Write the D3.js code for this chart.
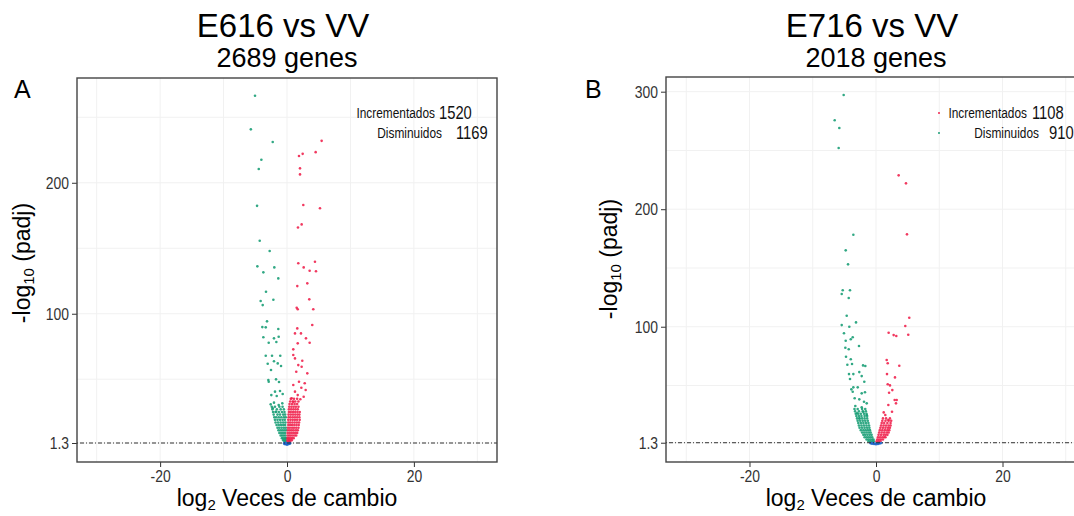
<!DOCTYPE html>
<html>
<head>
<meta charset="utf-8">
<script src="https://cdn.jsdelivr.net/npm/d3@7"></script>
<style>
  body { margin: 0; background: #fff; }
  .tick text { font-family: "Liberation Sans", Arial, sans-serif; font-size: 17px; fill: #333; }
  .tick line { stroke: #333; }
  .lab { font-family: "Liberation Sans", Arial, sans-serif; fill: #000; }
  .leg { font-family: "Liberation Sans", Arial, sans-serif; fill: #111; }
</style>
</head>
<body>
<div id="chart"></div>
<script>
// volcano plots, values

var xTicks = [-20, 0, 20];
var xMinor = [-30, -10, 10, 30];
var yTicksA = [1.3, 100, 200];
var yTicksB = [1.3, 100, 200, 300];
var yMinorA = [50, 150, 250];
var yMinorB = [50, 150, 250];
var threshold = 1.3;

var titleA = ["E616 vs VV", "2689 genes"];
var titleB = ["E716 vs VV", "2018 genes"];
var legendLabels = ["Incrementados", "Disminuidos"];
var countsA = [1520, 1169];
var countsB = [1108, 910];

// panel A - up regulated (red)
var upA = [
  [5.46,232],[4.52,223.4],[2.47,222.1],[1.89,220.4],[2.05,211],[2.05,206.4],[2.57,183],[5.2,180.5],
  [2.31,168.2],[1.73,165.9],[1.78,138.5],[4.41,139.7],[2.63,135.4],[3.57,132.8],[4.57,132.4],[3.2,123.2],
  [1.62,121.1],[3.51,111],[1.53,104.6],[1.69,103.4],[4.14,103.4],[3.98,91.4],[1.62,88.8],[1.26,85],
  [2.2,85],[2.99,81.2],[3.57,77.9],[1.69,77.4],[0.99,72.8],[0.99,68.5],[1.26,65.9],[2.41,64.1],
  [1.78,60.8],[2.31,59.5],[1.46,55.7],[3.2,54.5],[1.89,48.1],[2.79,46.9],[0.99,45.6],[2.26,43.5],
  [2.94,41.8],[1.26,40.5],[1.69,37.9],[2.63,36.6],[0.74,35.4],[2.1,34.7],[0.99,32.8],
  [0.6,35],[1.1,35],[1.6,35],
  [0.5,33],[0.9,33],[1.3,33],[1.8,33],
  [0.4,31],[0.8,31],[1.2,31],[1.6,31],
  [0.35,29],[0.7,29],[1.05,29],[1.4,29],[1.8,29],
  [0.3,27],[0.65,27],[1.0,27],[1.35,27],[1.7,27],
  [0.3,25],[0.6,25],[0.95,25],[1.3,25],[1.65,25],[2.0,25],
  [0.25,23],[0.6,23],[0.95,23],[1.3,23],[1.65,23],[1.95,23],
  [0.25,21],[0.55,21],[0.9,21],[1.25,21],[1.6,21],[1.95,21],
  [0.2,19],[0.55,19],[0.9,19],[1.25,19],[1.6,19],[2.0,19],
  [0.2,17],[0.5,17],[0.85,17],[1.2,17],[1.55,17],[1.9,17],
  [0.2,15],[0.5,15],[0.8,15],[1.15,15],[1.5,15],[1.85,15],
  [0.15,13],[0.45,13],[0.8,13],[1.1,13],[1.45,13],[1.8,13],
  [0.15,11],[0.45,11],[0.75,11],[1.05,11],[1.4,11],[1.7,11],
  [0.1,9],[0.4,9],[0.7,9],[1.0,9],[1.3,9],[1.6,9],
  [0.1,7],[0.35,7],[0.6,7],[0.9,7],[1.2,7],[1.45,7],
  [0.1,5],[0.3,5],[0.55,5],[0.8,5],[1.05,5],
  [0.1,3.5],[0.3,3.5],[0.5,3.5],[0.75,3.5],
  [0.1,2.2],[0.3,2.2],[0.5,2.2]
];

// panel A - down regulated (green)
var downA = [
  [-5.04,266.4],[-5.7,240.8],[-2.25,231.1],[-4.04,217.6],[-4.45,210.5],[-4.72,182.4],[-4.3,155.7],[-2.73,147.9],
  [-4.67,136.2],[-2.0,135.4],[-3.73,131.6],[-1.37,127],[-3.31,116.8],[-4.15,109.7],[-2.15,110.7],[-3.83,106.6],
  [-3.15,94.2],[-3.89,89.8],[-3.35,89.6],[-1.37,88.3],[-3.73,82],[-2.05,81.2],[-1.31,82.4],[-2.88,77.9],
  [-1.68,78.4],[-3.35,67.9],[-2.36,67.9],[-1.06,67.9],[-3.04,61.8],[-2.05,63.7],[-1.46,62.1],[-0.94,60.1],
  [-2.52,57],[-2.94,49.4],[-1.73,49.9],[-1.26,47.9],[-2.88,48.1],[-1.89,40.5],[-1.1,41],[-2.47,37.9],
  [-1.62,37.2],[-0.68,38.7],[-2.57,30.8],[-2.05,32.1],[-1.31,30.3],[-0.74,31.6],[-2.25,27.8],[-1.73,25.2],
  [-2.4,29],[-1.9,29],[-1.2,29],[-0.7,29],
  [-2.3,27],[-1.6,27],[-1.0,27],[-0.5,27],
  [-2.2,25],[-1.8,25],[-1.3,25],[-0.8,25],[-0.4,25],
  [-2.1,23],[-1.5,23],[-1.1,23],[-0.6,23],[-0.3,23],
  [-2.0,21],[-1.7,21],[-1.3,21],[-0.9,21],[-0.5,21],[-0.2,21],
  [-1.9,19],[-1.5,19],[-1.1,19],[-0.7,19],[-0.35,19],
  [-1.8,17],[-1.4,17],[-1.0,17],[-0.6,17],[-0.25,17],
  [-1.65,15],[-1.3,15],[-0.95,15],[-0.6,15],[-0.3,15],
  [-1.5,13],[-1.2,13],[-0.85,13],[-0.5,13],[-0.2,13],
  [-1.35,11],[-1.05,11],[-0.75,11],[-0.45,11],[-0.15,11],
  [-1.2,9],[-0.9,9],[-0.6,9],[-0.3,9],
  [-1.0,7],[-0.75,7],[-0.5,7],[-0.25,7],
  [-0.8,5],[-0.55,5],[-0.3,5],[-0.1,5],
  [-0.6,3.5],[-0.4,3.5],[-0.2,3.5],
  [-0.4,2.2],[-0.2,2.2]
];

// panel A - not significant (blue)
var nsA = [
  [-0.4,0.6],[-0.2,0.3],[0,0.1],[0.2,0.4],[0.4,0.8],[-0.3,1.0],[0.1,0.9],[0,0.5],
  [-0.1,1.2],[0.3,1.1],[-0.45,1.2],[0.5,1.2]
];

// panel B - up regulated (red)
var upB = [
  [3.58,228.8],[4.74,222],[4.9,178.6],[5.26,107.7],[4.63,100.6],[5.1,93.2],[2.0,94.9],[2.79,92.9],
  [3.21,92.1],[1.69,71.7],[1.85,68.9],[3.68,66.8],[1.74,59.7],[3.0,56.9],[1.85,51],[2.21,50.1],
  [2.58,46.1],[2.07,43.8],[2.95,37.6],[3.27,37.6],[1.95,33.4],[3.16,34.8],[1.22,27.1],[2.53,27.7],
  [1.47,24.9],[1.95,20.6],
  [1.1,22],[1.6,22],[2.2,22],
  [1.0,20],[1.5,20],[2.0,20],[2.4,20],
  [0.9,18],[1.3,18],[1.8,18],[2.3,18],
  [0.8,16],[1.2,16],[1.6,16],[2.0,16],[2.3,16],
  [0.7,14],[1.1,14],[1.5,14],[1.9,14],[2.2,14],
  [0.6,12],[1.0,12],[1.4,12],[1.8,12],[2.1,12],
  [0.5,10],[0.9,10],[1.3,10],[1.7,10],[2.0,10],
  [0.4,8],[0.8,8],[1.2,8],[1.5,8],[1.8,8],
  [0.3,6],[0.65,6],[1.0,6],[1.3,6],[1.5,6],
  [0.2,4],[0.5,4],[0.8,4],[1.1,4],
  [0.1,2.5],[0.4,2.5],[0.7,2.5]
];

// panel B - down regulated (green)
var downB = [
  [-5.11,297.2],[-6.53,275.7],[-5.8,269.1],[-5.9,252.1],[-3.58,178.3],[-4.79,165],[-4.42,153.1],[-5.26,131],
  [-4.11,131],[-5.42,127.8],[-4.31,124.4],[-4.63,109.4],[-3.16,103.7],[-5.42,101.4],[-4.22,100],[-5.06,94.4],
  [-3.68,91],[-4.79,88.1],[-3.99,89.3],[-2.69,83.6],[-4.85,82.1],[-4.31,80.8],[-4.74,74.5],[-3.99,72.3],
  [-4.53,67.7],[-3.79,68.3],[-2.05,67.1],[-1.69,66.6],[-4.27,59.7],[-3.58,59.7],[-2.64,61.4],[-4.11,55.5],
  [-2.26,58],[-1.85,53.2],[-3.9,46.7],[-3.58,48.4],[-2.89,48.4],[-3.68,44.7],[-2.26,43.3],[-1.74,44.2],
  [-3.37,39.1],[-2.64,38.2],[-1.9,36.2],[-1.47,34.8],[-3.27,32.5],[-2.26,31.4],[-3.0,26.3],[-2.0,27.7],
  [-1.47,24.9],[-2.64,22],
  [-3.4,30],[-2.9,30],[-2.2,30],[-1.7,30],
  [-3.3,28],[-2.7,28],[-2.1,28],[-1.6,28],
  [-3.2,26],[-2.8,26],[-2.4,26],[-1.9,26],[-1.5,26],
  [-3.1,24],[-2.7,24],[-2.3,24],[-1.8,24],[-1.4,24],
  [-3.0,22],[-2.6,22],[-2.2,22],[-1.8,22],[-1.4,22],
  [-2.9,20],[-2.5,20],[-2.1,20],[-1.7,20],[-1.3,20],
  [-2.8,18],[-2.4,18],[-2.0,18],[-1.6,18],[-1.2,18],
  [-2.7,16],[-2.3,16],[-1.9,16],[-1.5,16],[-1.1,16],
  [-2.6,14],[-2.2,14],[-1.8,14],[-1.4,14],[-1.05,14],
  [-2.4,12],[-2.0,12],[-1.65,12],[-1.3,12],[-0.95,12],
  [-2.2,10],[-1.85,10],[-1.5,10],[-1.15,10],[-0.85,10],
  [-2.0,8],[-1.7,8],[-1.35,8],[-1.0,8],[-0.7,8],
  [-1.8,6],[-1.5,6],[-1.2,6],[-0.9,6],[-0.6,6],
  [-1.5,4],[-1.2,4],[-0.9,4],[-0.6,4],[-0.4,4],
  [-1.2,2.5],[-0.9,2.5],[-0.6,2.5],[-0.35,2.5]
];

// panel B - not significant (blue)
var nsB = [
  [-0.9,1.0],[-0.6,0.5],[-0.3,0.2],[0,0.1],[0.3,0.3],[0.6,0.6],[0.85,1.1],[-0.75,0.8],
  [0.45,1.0],[-0.45,1.1],[0.15,0.9],[-0.15,0.7]
];

var colUp = "#f0244f";
var colDown = "#1b9e77";
var colNs = "#1f66c9";
var narrow = "scale(0.82,1)";

var svgWidth = 1074;
var svgHeight = 516;

var svg = d3.select("#chart")
  .append("svg")
  .attr("width", svgWidth)
  .attr("height", svgHeight);

svg.append("rect")
  .attr("width", svgWidth)
  .attr("height", svgHeight)
  .attr("fill", "#fff");

function drawPanel(p) {
  var x = d3.scaleLinear().domain(p.xDomain).range([p.left, p.right]);
  var y = d3.scaleLinear().domain(p.yDomain).range([p.bottom, p.top]);
  var g = svg.append("g");

  // grid
  g.selectAll(".vg")
    .data(xTicks.concat(xMinor))
    .enter()
    .append("line")
    .attr("x1", d => x(d)).attr("x2", d => x(d))
    .attr("y1", p.top).attr("y2", p.bottom)
    .attr("stroke", "#f1f1f1")
    .attr("stroke-width", 1);

  g.selectAll(".hg")
    .data(p.yTicks.concat(p.yMinor))
    .enter()
    .append("line")
    .attr("x1", p.left).attr("x2", p.right)
    .attr("y1", d => y(d)).attr("y2", d => y(d))
    .attr("stroke", "#f1f1f1")
    .attr("stroke-width", 1);

  // points
  var sets = [[p.down, colDown], [p.up, colUp], [p.ns, colNs]];
  sets.forEach(function(s) {
    g.selectAll(null)
      .data(s[0])
      .enter()
      .append("circle")
      .attr("cx", d => x(d[0]))
      .attr("cy", d => y(d[1]))
      .attr("r", 1.3)
      .attr("fill", s[1])
      .attr("opacity", 0.9);
  });

  // padj threshold
  g.append("line")
    .attr("x1", p.left).attr("x2", p.right)
    .attr("y1", y(threshold)).attr("y2", y(threshold))
    .attr("stroke", "#333")
    .attr("stroke-width", 1)
    .attr("stroke-dasharray", "1,2,4,2");

  // axes
  var bottomAxis = d3.axisBottom(x).tickValues(xTicks).tickSize(5).tickPadding(3).tickFormat(d => d);
  var leftAxis = d3.axisLeft(y).tickValues(p.yTicks).tickSize(5).tickPadding(3).tickFormat(d => d);

  g.append("g")
    .attr("transform", `translate(0, ${p.bottom})`)
    .call(bottomAxis)
    .call(a => a.select(".domain").remove())
    .call(a => a.selectAll("text").attr("transform", narrow));

  g.append("g")
    .attr("transform", `translate(${p.left}, 0)`)
    .call(leftAxis)
    .call(a => a.select(".domain").remove())
    .call(a => a.selectAll(".tick text")
      .attr("x", 0).attr("text-anchor", "end")
      .attr("transform", "translate(-8,0) " + narrow));

  g.append("rect")
    .attr("x", p.left).attr("y", p.top)
    .attr("width", p.right - p.left)
    .attr("height", p.bottom - p.top)
    .attr("fill", "none")
    .attr("stroke", "#444")
    .attr("stroke-width", 1.4);

  var cx = (p.left + p.right) / 2;

  // titles
  g.append("text").attr("class", "lab")
    .attr("x", cx - 4).attr("y", 37)
    .attr("text-anchor", "middle")
    .attr("font-size", "33px")
    .text(p.title[0]);

  g.append("text").attr("class", "lab")
    .attr("x", cx).attr("y", 67)
    .attr("text-anchor", "middle")
    .attr("font-size", "27px")
    .text(p.title[1]);

  g.append("text").attr("class", "lab")
    .attr("x", p.letterX).attr("y", 98)
    .attr("font-size", "25px")
    .text(p.letter);

  // x label
  var xl = g.append("text").attr("class", "lab")
    .attr("x", cx).attr("y", 506)
    .attr("text-anchor", "middle")
    .attr("font-size", "23px");
  xl.append("tspan").text("log");
  xl.append("tspan").attr("font-size", "15px").attr("dy", 4).text("2");
  xl.append("tspan").attr("dy", -4).text(" Veces de cambio");

  // y label
  var yl = g.append("text").attr("class", "lab")
    .attr("transform", `translate(${p.yLabX}, ${p.yLabY}) rotate(-90)`)
    .attr("text-anchor", "middle")
    .attr("font-size", "23px");
  yl.append("tspan").text("-log");
  yl.append("tspan").attr("font-size", "15px").attr("dy", 4).text("10");
  yl.append("tspan").attr("dy", -4).text(" (padj)");

  // legend
  var cols = [colUp, colDown];
  legendLabels.forEach(function(lbl, i) {
    var ly = 118 + i * 20;
    g.append("text").attr("class", "leg")
      .attr("transform", `translate(${p.legWordEnd[i]}, ${ly}) ${narrow}`)
      .attr("text-anchor", "end")
      .attr("font-size", "14.5px")
      .text(lbl);
    g.append("text").attr("class", "leg")
      .attr("transform", `translate(${p.legNumStart[i]}, ${ly + 1}) ${narrow}`)
      .attr("font-size", "18px")
      .text(p.counts[i]);
    if (p.legDots) {
      g.append("circle")
        .attr("cx", p.legDotX).attr("cy", ly - 5)
        .attr("r", 1)
        .attr("fill", cols[i]);
    }
  });
}

drawPanel({
  left: 77, right: 497, top: 78, bottom: 462,
  xDomain: [-33.1, 33.1], yDomain: [-13.2, 280],
  yTicks: yTicksA, yMinor: yMinorA,
  up: upA, down: downA, ns: nsA,
  title: titleA, letter: "A", letterX: 14,
  yLabX: 30, yLabY: 263,
  counts: countsA, legWordEnd: [435, 442], legNumStart: [439, 456],
  legDots: false
});

drawPanel({
  left: 666, right: 1086, top: 77, bottom: 462,
  xDomain: [-33.2, 33.2], yDomain: [-15.1, 312.5],
  yTicks: yTicksB, yMinor: yMinorB,
  up: upB, down: downB, ns: nsB,
  title: titleB, letter: "B", letterX: 585,
  yLabX: 617, yLabY: 259,
  counts: countsB, legWordEnd: [1027, 1039], legNumStart: [1032, 1049],
  legDots: true, legDotX: 939
});
</script>
</body>
</html>
